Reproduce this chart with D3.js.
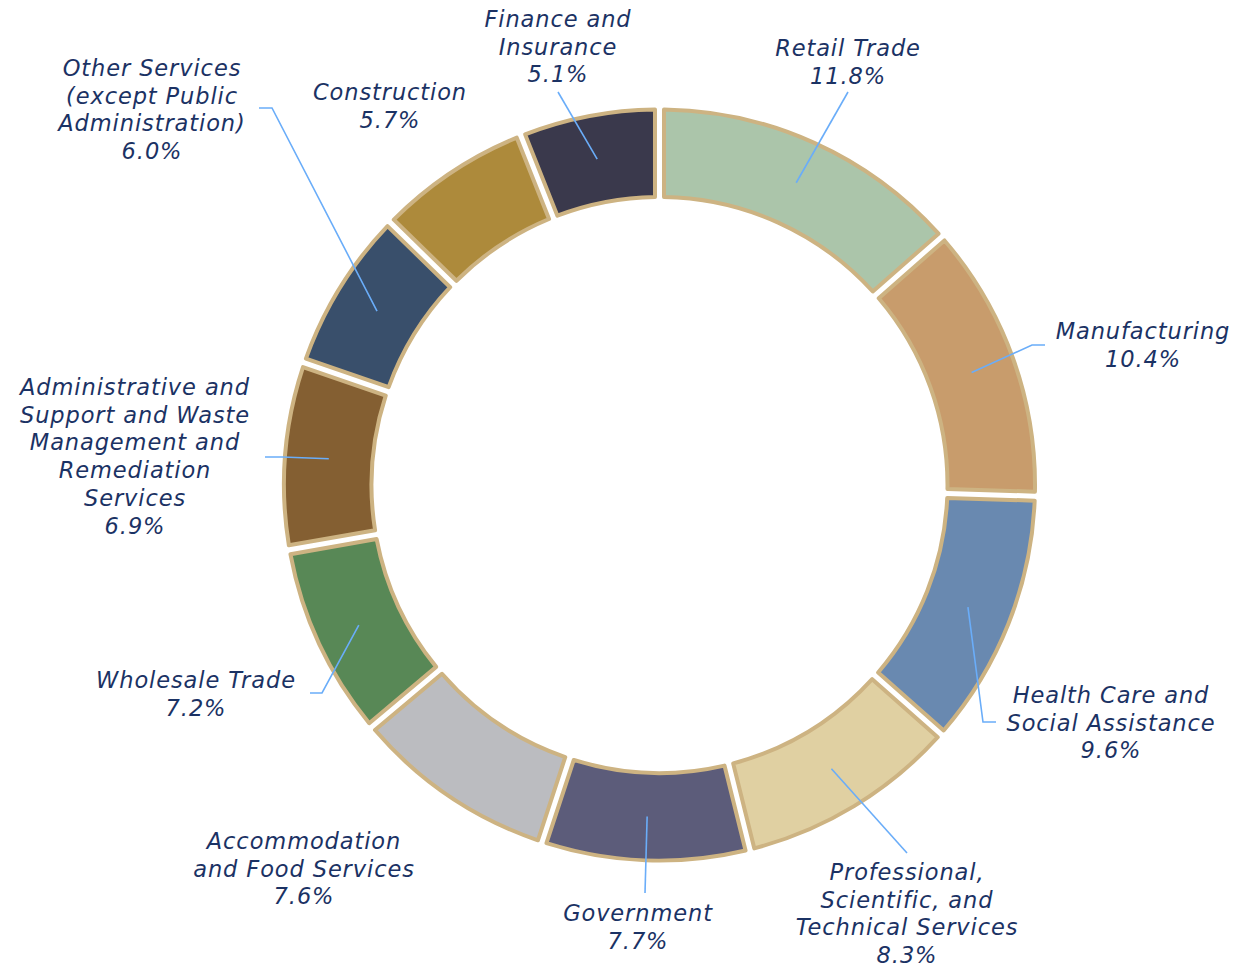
<!DOCTYPE html>
<html lang="en">
<head>
  <meta charset="UTF-8">
  <title>Industry Share Donut</title>
  <style>
    body { margin: 0; background: #fff; }
    svg { display: block; }
    text { font-family: "DejaVu Sans", sans-serif; font-style: italic; fill: #1b3264; letter-spacing: 0.9px; }
  </style>
  <script src="https://d3js.org/d3.v7.min.js"></script>
</head>
<body>
  <svg id="chart" width="1247" height="967"></svg>
  <script>
    // slices, clockwise from 12 o'clock
    const industries = [
      'Retail Trade', 'Manufacturing', 'Health Care and Social Assistance',
      'Professional, Scientific, and Technical Services', 'Government',
      'Accommodation and Food Services', 'Wholesale Trade',
      'Administrative and Support and Waste Management and Remediation Services',
      'Other Services (except Public Administration)', 'Construction', 'Finance and Insurance'
    ];
    const shares = [11.8, 10.4, 9.6, 8.3, 7.7, 7.6, 7.2, 6.9, 6.0, 5.7, 5.1];
    const colors = ['#abc5aa', '#c89c6c', '#6989b0', '#e0d0a2', '#5c5c7a', '#bbbcc0',
                    '#588856', '#845f32', '#394f6b', '#ad8a3b', '#3a394c'];
    // how each label wraps
    const labelLines = [
      ['Retail Trade'], ['Manufacturing'], ['Health Care and', 'Social Assistance'],
      ['Professional,', 'Scientific, and', 'Technical Services'], ['Government'],
      ['Accommodation', 'and Food Services'], ['Wholesale Trade'],
      ['Administrative and', 'Support and Waste', 'Management and', 'Remediation', 'Services'],
      ['Other Services', '(except Public', 'Administration)'], ['Construction'],
      ['Finance and', 'Insurance']
    ];

    // label placement (center x, first line y) and leader elbow/end, layout only
    const labelAnchor = [
      [848, 48], [1143, 331], [1111, 695], [907, 872], [638, 913], [304, 841],
      [196, 680], [135, 387], [152, 68], [390, 92], [558, 19]
    ];
    const leaderPts = [
      [[848, 92]], [[1032, 345], [1045, 345]], [[983, 722], [996, 722]], [[907, 853]],
      [[645, 893]], null, [[322, 693], [310, 693]], [[282, 457], [265, 457]],
      [[272, 108], [259, 108]], null, [[558, 92]]
    ];

    const svg = d3.select('#chart');
    const cx = 659.5, cy = 485;
    const g = svg.append('g').attr('transform', `translate(${cx},${cy})`);

    const pie = d3.pie().sort(null).value(d => d)
      .padAngle(0.019);
    const arcs = pie(shares);
    const arc = d3.arc().innerRadius(288).outerRadius(375.5);

    g.selectAll('path.slice')
      .data(arcs)
      .join('path')
      .attr('class', 'slice')
      .attr('d', arc)
      .attr('fill', (d, i) => colors[i])
      .attr('stroke', '#cdb382')
      .attr('stroke-width', 4)
      .attr('stroke-linejoin', 'round');

    // leader lines from arc centroid
    const line = d3.line();
    svg.append('g')
      .selectAll('path')
      .data(arcs.filter((d, i) => leaderPts[i]))
      .join('path')
      .attr('d', d => {
        const c = arc.centroid(d);
        const pts = [[c[0] + cx, c[1] + cy]].concat(leaderPts[d.index]);
        return line(pts);
      })
      .attr('fill', 'none')
      .attr('stroke', '#6aadf9')
      .attr('stroke-width', 1.6);

    const labels = svg.append('g')
      .selectAll('text')
      .data(arcs)
      .join('text')
      .attr('text-anchor', 'middle')
      .attr('dominant-baseline', 'central')
      .style('font-size', '22.5px');

    labels.each(function(d, i) {
      const t = d3.select(this);
      const lines = labelLines[i].concat([shares[i].toFixed(1) + '%']);
      lines.forEach((s, k) => {
        t.append('tspan')
          .attr('x', labelAnchor[i][0])
          .attr('y', labelAnchor[i][1] + k * 27.7)
          .text(s);
      });
    });
  </script>
</body>
</html>
